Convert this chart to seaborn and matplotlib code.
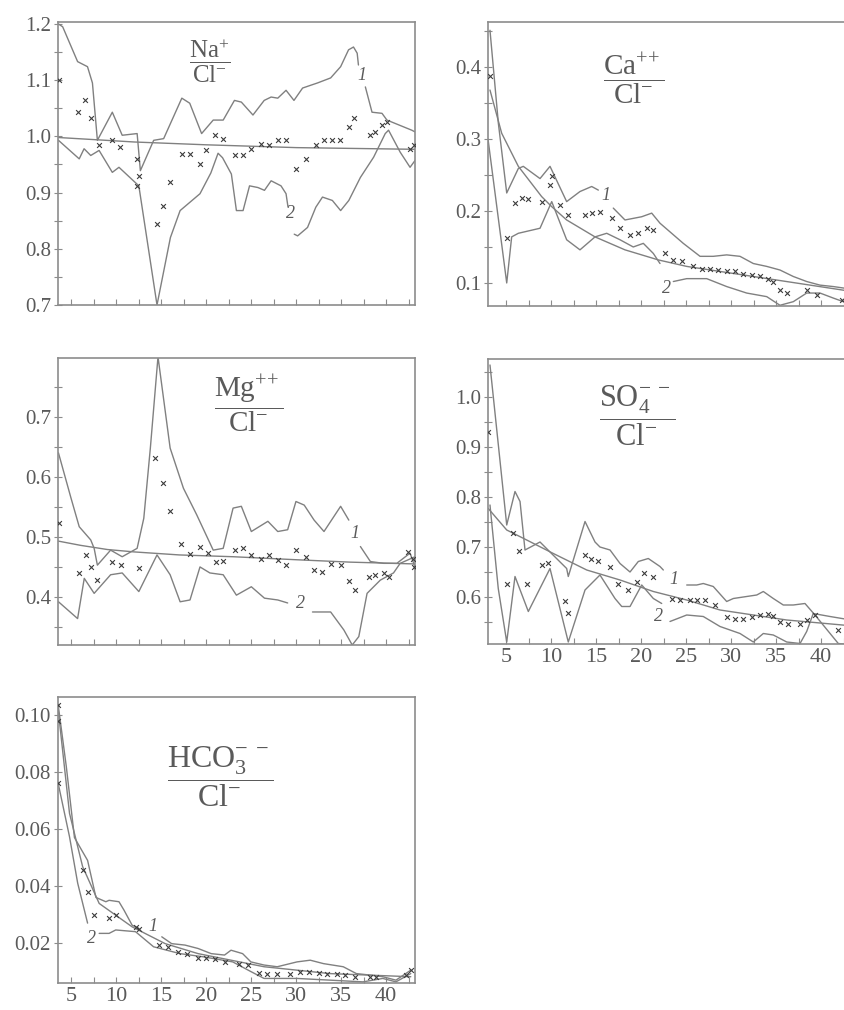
import numpy as np
import pandas as pd
import matplotlib
matplotlib.use("Agg")
import matplotlib.pyplot as plt
from matplotlib.ticker import MultipleLocator, FormatStrFormatter
import seaborn as sns

nan = np.nan

# ---- Na+/Cl- ----
na_up_x = [3.55, 4.02, 5.68, 6.78, 7.33, 7.88, 9.54, 10.64, 12.3, 12.66, 14.14, 15.25, 17.27, 18.15, 19.47,
           20.76, 21.87, 23.12, 23.89, 25.18, 26.43, 27.2, 27.94, 28.86, 29.74, 30.7, 31.61, 32.35, 33.82,
           34.93, 35.81, 36.36, 36.77, 36.91, 37.3, 37.68, 38.42, 39.53, 40.08, 42.84, 43.2]
na_up_y = [1.2, 1.195, 1.133, 1.124, 1.095, 0.993, 1.043, 1.002, 1.005, 0.939, 0.993, 0.996, 1.068, 1.059, 1.005,
           1.029, 1.029, 1.064, 1.061, 1.038, 1.064, 1.07, 1.068, 1.082, 1.064, 1.086, 1.091, 1.095, 1.104,
           1.124, 1.154, 1.159, 1.148, 1.127, nan, 1.088, 1.043, 1.041, 1.029, 1.011, 1.008]
na_lo_x = [3.55, 5.86, 6.4, 7.14, 8.07, 9.54, 10.28, 12.49, 14.51, 16.0, 17.08, 19.29, 20.5, 21.3, 21.8,
           22.78, 23.34, 24.08, 24.8, 25.73, 26.46, 27.2, 28.3, 28.86, 29.08, 29.4, 29.77, 30.15, 31.25, 32.17,
           32.91, 34.01, 34.93, 35.84, 37.13, 38.6, 39.89, 40.26, 41.55, 42.65, 43.2]
na_lo_y = [0.993, 0.960, 0.978, 0.966, 0.975, 0.936, 0.945, 0.912, 0.700, 0.82, 0.868, 0.898, 0.935, 0.970, 0.962,
           0.933, 0.868, 0.868, 0.912, 0.909, 0.904, 0.921, 0.912, 0.898, 0.874, nan, 0.826, 0.823, 0.838, 0.874,
           0.892, 0.886, 0.868, 0.886, 0.927, 0.963, 1.005, 1.011, 0.972, 0.945, 0.957]
na_tr_x = [3.55, 12, 20, 30, 43.2]
na_tr_y = [0.998, 0.990, 0.985, 0.980, 0.977]
na_pt_x = [3.6, 5.67, 6.52, 7.15, 8.06, 9.54, 10.45, 12.29, 12.48, 12.29, 14.5, 15.23, 15.97, 17.26, 18.18,
           19.28, 20.01, 20.93, 21.85, 23.14, 24.06, 24.98, 26.08, 27.0, 27.92, 28.84, 29.94, 31.04, 32.15,
           33.07, 33.98, 34.9, 35.82, 36.37, 38.21, 38.76, 39.5, 40.05, 42.62, 43.1]
na_pt_y = [1.1, 1.043, 1.065, 1.032, 0.984, 0.993, 0.981, 0.96, 0.93, 0.912, 0.844, 0.877, 0.918, 0.969, 0.968,
           0.951, 0.975, 1.002, 0.996, 0.966, 0.966, 0.978, 0.987, 0.984, 0.993, 0.993, 0.942, 0.96, 0.984,
           0.993, 0.993, 0.993, 1.017, 1.032, 1.002, 1.008, 1.02, 1.026, 0.978, 0.984]

# ---- Ca++/Cl- ----
ca_a_x = [3.22, 4.15, 5.08, 6.37, 6.92, 8.78, 9.89, 11.74, 13.22, 14.52, 15.26, 16.1, 16.92, 18.22, 20.08,
          21.19, 22.11, 24.7, 26.56, 28.03, 29.52, 31.0, 32.48, 33.97, 35.44, 36.92, 38.41, 39.89, 41.37, 42.48, 43.0]
ca_a_y = [0.451, 0.322, 0.225, 0.259, 0.262, 0.245, 0.262, 0.213, 0.227, 0.234, 0.229, nan, 0.204, 0.1875, 0.192,
          0.197, 0.183, 0.155, 0.137, 0.137, 0.139, 0.137, 0.127, 0.123, 0.118, 0.109, 0.102, 0.097, 0.095, 0.093, 0.092]
ca_b_x = [3.0, 5.08, 5.63, 6.37, 8.78, 10.08, 11.74, 13.22, 14.89, 16.19, 17.67, 19.14, 20.26, 21.37, 22.11,
          22.8, 23.59, 25.08, 27.3, 29.52, 31.74, 33.97, 35.44, 36.92, 38.41, 39.89, 41.37, 42.48, 43.0]
ca_b_y = [0.30, 0.10, 0.164, 0.169, 0.176, 0.213, 0.16, 0.146, 0.164, 0.169, 0.16, 0.15, 0.155, 0.141, 0.127,
          nan, 0.102, 0.106, 0.106, 0.095, 0.086, 0.081, 0.069, 0.074, 0.086, 0.086, 0.079, 0.074, 0.073]
ca_tr_x = [3.22, 4.52, 6.37, 8.96, 10.08, 11.74, 14.89, 18.22, 21.93, 25.08, 32.48, 43.0]
ca_tr_y = [0.368, 0.308, 0.262, 0.22, 0.206, 0.1875, 0.164, 0.146, 0.132, 0.123, 0.109, 0.089]
ca_pt_x = [3.2, 5.15, 6.0, 6.74, 7.48, 8.96, 9.89, 10.08, 11.0, 11.92, 13.78, 14.52, 15.44, 16.74, 17.67,
           18.78, 19.7, 20.63, 21.37, 22.67, 23.59, 24.52, 25.81, 26.74, 27.67, 28.59, 29.52, 30.44, 31.37,
           32.3, 33.22, 34.14, 34.7, 35.44, 36.19, 38.41, 39.52, 42.3]
ca_pt_y = [0.387, 0.162, 0.211, 0.218, 0.216, 0.213, 0.236, 0.248, 0.208, 0.194, 0.194, 0.197, 0.199, 0.19, 0.176,
           0.167, 0.169, 0.176, 0.174, 0.141, 0.132, 0.13, 0.123, 0.12, 0.12, 0.118, 0.116, 0.116, 0.113,
           0.111, 0.109, 0.106, 0.102, 0.09, 0.086, 0.09, 0.083, 0.076]

# ---- Mg++/Cl- ----
mg_up_x = [3.55, 4.94, 5.86, 7.14, 7.52, 7.88, 9.35, 10.64, 12.3, 13.04, 13.77, 14.62, 15.97, 17.45, 18.92,
           20.76, 21.87, 22.97, 23.89, 25.0, 26.84, 27.94, 29.04, 29.96, 30.88, 31.98, 33.08, 34.93, 35.84,
           36.5, 37.13, 38.24, 39.71, 41.18, 42.65, 43.2]
mg_up_y = [0.64, 0.565, 0.517, 0.495, 0.481, 0.453, 0.478, 0.467, 0.481, 0.531, 0.648, 0.80, 0.648, 0.581, 0.537,
           0.478, 0.481, 0.548, 0.551, 0.509, 0.526, 0.509, 0.512, 0.559, 0.553, 0.528, 0.509, 0.551, 0.528,
           nan, 0.484, 0.459, 0.456, 0.456, 0.473, 0.45]
mg_lo_x = [3.55, 5.68, 6.42, 7.52, 9.35, 10.64, 12.49, 14.51, 15.97, 17.08, 18.18, 19.29, 20.39, 21.87, 23.34,
           25.0, 26.46, 27.94, 29.04, 30.0, 31.8, 33.82, 35.29, 36.22, 36.95, 37.87, 39.34, 40.81, 41.55, 43.2]
mg_lo_y = [0.392, 0.364, 0.431, 0.406, 0.437, 0.44, 0.409, 0.47, 0.437, 0.392, 0.395, 0.45, 0.44, 0.437, 0.403,
           0.417, 0.398, 0.395, 0.39, nan, 0.375, 0.375, 0.345, 0.32, 0.334, 0.406, 0.428, 0.44, 0.456, 0.467]
mg_tr_x = [3.55, 6, 9, 12, 17, 23, 30, 36, 43.2]
mg_tr_y = [0.493, 0.486, 0.479, 0.475, 0.470, 0.467, 0.462, 0.458, 0.455]
mg_pt_x = [3.6, 5.79, 6.59, 7.14, 7.88, 9.54, 10.46, 12.49, 14.32, 15.17, 15.97, 17.16, 18.18, 19.29, 20.21,
           21.05, 21.87, 23.15, 24.08, 25.0, 26.1, 27.01, 27.94, 28.86, 29.96, 31.06, 31.98, 32.91, 33.82,
           34.93, 35.84, 36.58, 38.05, 38.79, 39.71, 40.26, 42.46, 43.02, 43.1]
mg_pt_y = [0.523, 0.44, 0.47, 0.45, 0.428, 0.459, 0.453, 0.448, 0.632, 0.589, 0.543, 0.489, 0.471, 0.484, 0.473,
           0.458, 0.46, 0.479, 0.482, 0.47, 0.464, 0.47, 0.462, 0.453, 0.479, 0.467, 0.445, 0.442, 0.455,
           0.453, 0.426, 0.412, 0.434, 0.437, 0.44, 0.434, 0.475, 0.464, 0.45]

# ---- SO4--/Cl- ----
so_u_x = [3.22, 5.08, 6.0, 6.56, 7.11, 8.78, 9.89, 11.74, 11.92, 13.78, 14.89, 15.44, 16.56, 17.67, 18.78,
          19.7, 20.81, 22.11, 22.48, 23.5, 25.08, 26.19, 26.92, 28.03, 29.52, 30.26, 31.74, 32.86, 33.59,
          34.7, 35.81, 36.92, 38.22, 39.33, 41.92, 43.0]
so_u_y = [1.064, 0.744, 0.811, 0.791, 0.694, 0.71, 0.69, 0.657, 0.641, 0.751, 0.71, 0.70, 0.694, 0.667, 0.65,
          0.671, 0.677, 0.661, 0.654, nan, 0.624, 0.624, 0.627, 0.621, 0.591, 0.597, 0.601, 0.604, 0.611,
          0.597, 0.584, 0.584, 0.587, 0.564, 0.507, 0.505]
so_l_x = [3.22, 4.14, 5.08, 6.0, 7.48, 9.89, 11.92, 13.78, 15.44, 17.11, 17.86, 18.78, 20.08, 21.37, 22.3,
          22.8, 23.22, 25.08, 26.92, 28.78, 31.0, 32.48, 33.59, 34.7, 36.19, 37.67, 38.41, 39.14, 41.0, 43.0]
so_l_y = [0.784, 0.617, 0.51, 0.641, 0.571, 0.657, 0.51, 0.614, 0.644, 0.597, 0.581, 0.581, 0.624, 0.597, 0.587,
          nan, 0.551, 0.564, 0.561, 0.541, 0.527, 0.51, 0.527, 0.524, 0.51, 0.507, 0.531, 0.567, 0.561, 0.555]
so_tr_x = [3.03, 5.08, 7.3, 10.26, 13.97, 17.67, 21.37, 25.08, 28.78, 32.48, 36.19, 43.0]
so_tr_y = [0.777, 0.734, 0.714, 0.687, 0.654, 0.634, 0.611, 0.594, 0.574, 0.564, 0.554, 0.543]
so_pt_x = [3.03, 5.14, 5.81, 6.48, 7.3, 8.96, 9.7, 11.56, 11.92, 13.78, 14.44, 15.26, 16.56, 17.48, 18.59,
           19.52, 20.37, 21.37, 23.41, 24.33, 25.44, 26.19, 27.11, 28.22, 29.52, 30.44, 31.37, 32.3, 33.22,
           34.14, 34.7, 35.44, 36.37, 37.67, 38.41, 39.33, 41.92]
so_pt_y = [0.931, 0.627, 0.729, 0.693, 0.627, 0.664, 0.669, 0.592, 0.569, 0.684, 0.676, 0.672, 0.661, 0.627, 0.614,
           0.631, 0.649, 0.641, 0.597, 0.594, 0.594, 0.594, 0.594, 0.584, 0.561, 0.557, 0.557, 0.561, 0.564,
           0.566, 0.562, 0.551, 0.547, 0.547, 0.554, 0.564, 0.534]

# ---- HCO3--/Cl- ----
hc_up_x = [3.52, 4.42, 5.33, 6.24, 6.79, 7.72, 8.82, 9.18, 10.28, 10.83, 11.74, 12.48, 13.6, 15.04, 16.14,
           17.62, 19.08, 20.54, 22.02, 22.74, 24.03, 24.95, 26.42, 27.88, 30.08, 31.55, 33.02, 35.22, 36.68,
           38.15, 39.62, 41.08, 42.73]
hc_up_y = [0.1035, 0.082, 0.057, 0.052, 0.049, 0.036, 0.0345, 0.035, 0.0345, 0.0316, 0.0263, 0.0251, nan, 0.0222, 0.0198,
           0.0193, 0.0181, 0.0163, 0.0158, 0.0175, 0.0163, 0.0134, 0.0123, 0.0117, 0.0134, 0.014, 0.0128, 0.0117, 0.0093,
           0.0088, 0.0082, 0.007, 0.0105]
hc_lo_x = [3.52, 4.78, 5.69, 6.79, 7.4, 8.08, 9.18, 9.92, 12.12, 14.13, 17.07, 19.63, 22.93, 24.95, 26.42,
           30.08, 33.74, 37.42, 39.62, 41.08, 42.73]
hc_lo_y = [0.076, 0.0573, 0.041, 0.027, nan, 0.0234, 0.0234, 0.0246, 0.024, 0.0187, 0.0163, 0.0152, 0.0134, 0.01, 0.0076,
           0.0076, 0.007, 0.0064, 0.0076, 0.0064, 0.0093]
hc_tr_x = [3.52, 4.78, 6.24, 8.08, 11.74, 15.42, 19.08, 22.74, 26.42, 33.74, 42.73]
hc_tr_y = [0.1018, 0.0655, 0.0468, 0.0339, 0.0257, 0.0198, 0.0163, 0.014, 0.0117, 0.0093, 0.0082]
hc_pt_x = [3.52, 3.52, 3.52, 6.24, 6.79, 7.53, 9.18, 9.92, 12.12, 12.48, 14.68, 15.78, 16.88, 17.8, 19.08,
           20.0, 20.92, 22.02, 23.67, 24.58, 25.87, 26.79, 27.88, 29.35, 30.45, 31.37, 32.47, 33.38, 34.48,
           35.4, 36.5, 38.15, 38.88, 42.18, 42.73]
hc_pt_y = [0.1035, 0.098, 0.076, 0.0456, 0.038, 0.0298, 0.0287, 0.0298, 0.0257, 0.0251, 0.0193, 0.0187, 0.017, 0.0163, 0.0146,
           0.0146, 0.0143, 0.0134, 0.0128, 0.0123, 0.0096, 0.0093, 0.0091, 0.0093, 0.0099, 0.0099, 0.0096, 0.0093, 0.0091,
           0.0088, 0.0082, 0.0082, 0.0082, 0.0088, 0.0105]

sns.set_style("white")
plt.rcParams['font.family'] = ['Liberation Serif', 'DejaVu Serif']
plt.rcParams['mathtext.fontset'] = 'custom'
plt.rcParams['mathtext.rm'] = 'Liberation Serif'
plt.rcParams['mathtext.it'] = 'Liberation Serif:italic'

LINE = '#808080'
TEXT = '#5a5a5a'
MARK = '#3c3c3c'


def draw_line(ax, xs, ys):
    df = pd.DataFrame({'x': xs, 'y': ys})
    # a nan in y marks a break in the curve (where the 1 / 2 labels sit)
    df['seg'] = df['y'].isna().cumsum()
    df = df.dropna()
    sns.lineplot(data=df, x='x', y='y', units='seg', estimator=None, sort=False,
                 color=LINE, linewidth=1.0, ax=ax, legend=False)


def panel(ax, curves, pts_x, pts_y, xlim, ylim, ymaj, ymin, fmt, title, tpos, tsize,
          lab1, lab2, xlabels):
    for xs, ys in curves:
        draw_line(ax, xs, ys)
    sns.scatterplot(x=pts_x, y=pts_y, marker='x', s=12, color=MARK, linewidth=0.8, ax=ax,
                    legend=False, zorder=3)
    ax.set_xlim(*xlim)
    ax.set_ylim(*ylim)
    ax.set_xlabel('')
    ax.set_ylabel('')
    ax.xaxis.set_major_locator(MultipleLocator(5))
    ax.xaxis.set_minor_locator(MultipleLocator(2.5))
    ax.yaxis.set_major_locator(MultipleLocator(ymaj))
    ax.yaxis.set_minor_locator(MultipleLocator(ymin))
    ax.yaxis.set_major_formatter(FormatStrFormatter(fmt))
    ax.tick_params(axis='y', which='both', left=True, direction='inout', length=6, width=0.8,
                   color='#8c8c8c', labelcolor=TEXT, labelsize=15, pad=2)
    ax.tick_params(axis='x', which='both', bottom=True, direction='in', length=4, width=0.8,
                   color='#8c8c8c', labelcolor=TEXT, labelsize=16, pad=3,
                   labelbottom=xlabels)
    for s in ax.spines.values():
        s.set_color('#8c8c8c')
        s.set_linewidth(1.2)
    ax.text(tpos[0], tpos[1], title, transform=ax.transAxes, ha='center', va='center',
            fontsize=tsize, color=TEXT)
    ax.text(lab1[0], lab1[1], '1', ha='center', va='center', fontsize=13,
            style='italic', color=TEXT)
    ax.text(lab2[0], lab2[1], '2', ha='center', va='center', fontsize=13,
            style='italic', color=TEXT)


fig = plt.figure(figsize=(8.44, 10.10), dpi=100)
W, H = 844.0, 1010.0
ax_na = fig.add_axes([58 / W, 1 - 305 / H, 357 / W, 283 / H])
ax_ca = fig.add_axes([488 / W, 1 - 306 / H, 360 / W, 284 / H])
ax_mg = fig.add_axes([58 / W, 1 - 645 / H, 357 / W, 287 / H])
ax_so = fig.add_axes([488 / W, 1 - 644 / H, 360 / W, 285 / H])
ax_hc = fig.add_axes([58 / W, 1 - 983 / H, 357 / W, 286 / H])

left_lim = (3.5, 43.2)
right_lim = (3.0, 43.0)

panel(ax_na, [(na_up_x, na_up_y), (na_lo_x, na_lo_y), (na_tr_x, na_tr_y)], na_pt_x, na_pt_y,
      left_lim, (0.7, 1.2035), 0.1, 0.05, '%.1f',
      r'$\dfrac{\mathrm{Na^{+}}}{\mathrm{Cl^{-}}}$', (0.425, 0.86), 18,
      (37.3, 1.109), (29.3, 0.862), False)

panel(ax_ca, [(ca_a_x, ca_a_y), (ca_b_x, ca_b_y), (ca_tr_x, ca_tr_y)], ca_pt_x, ca_pt_y,
      right_lim, (0.068, 0.4625), 0.1, 0.05, '%.1f',
      r'$\dfrac{\mathrm{Ca^{+\!+}}}{\mathrm{Cl^{-}}}$', (0.405, 0.80), 21,
      (16.1, 0.222), (22.85, 0.093), False)

panel(ax_mg, [(mg_up_x, mg_up_y), (mg_lo_x, mg_lo_y), (mg_tr_x, mg_tr_y)], mg_pt_x, mg_pt_y,
      left_lim, (0.32, 0.798), 0.1, 0.05, '%.1f',
      r'$\dfrac{\mathrm{Mg^{+\!+}}}{\mathrm{Cl^{-}}}$', (0.535, 0.84), 21,
      (36.5, 0.506), (30.5, 0.389), False)

panel(ax_so, [(so_u_x, so_u_y), (so_l_x, so_l_y), (so_tr_x, so_tr_y)], so_pt_x, so_pt_y,
      right_lim, (0.506, 1.076), 0.1, 0.05, '%.1f',
      r'$\dfrac{\mathrm{SO_4^{-\;-}}}{\mathrm{Cl^{-}}}$', (0.415, 0.80), 22,
      (23.6, 0.634), (21.9, 0.561), True)

panel(ax_hc, [(hc_up_x, hc_up_y), (hc_lo_x, hc_lo_y), (hc_tr_x, hc_tr_y)], hc_pt_x, hc_pt_y,
      left_lim, (0.006, 0.1063), 0.02, 0.02, '%.2f',
      r'$\dfrac{\mathrm{HCO_3^{-\;-}}}{\mathrm{Cl^{-}}}$', (0.455, 0.72), 23,
      (14.1, 0.0257), (7.2, 0.0216), True)

fig.savefig('out.png', dpi=100)
